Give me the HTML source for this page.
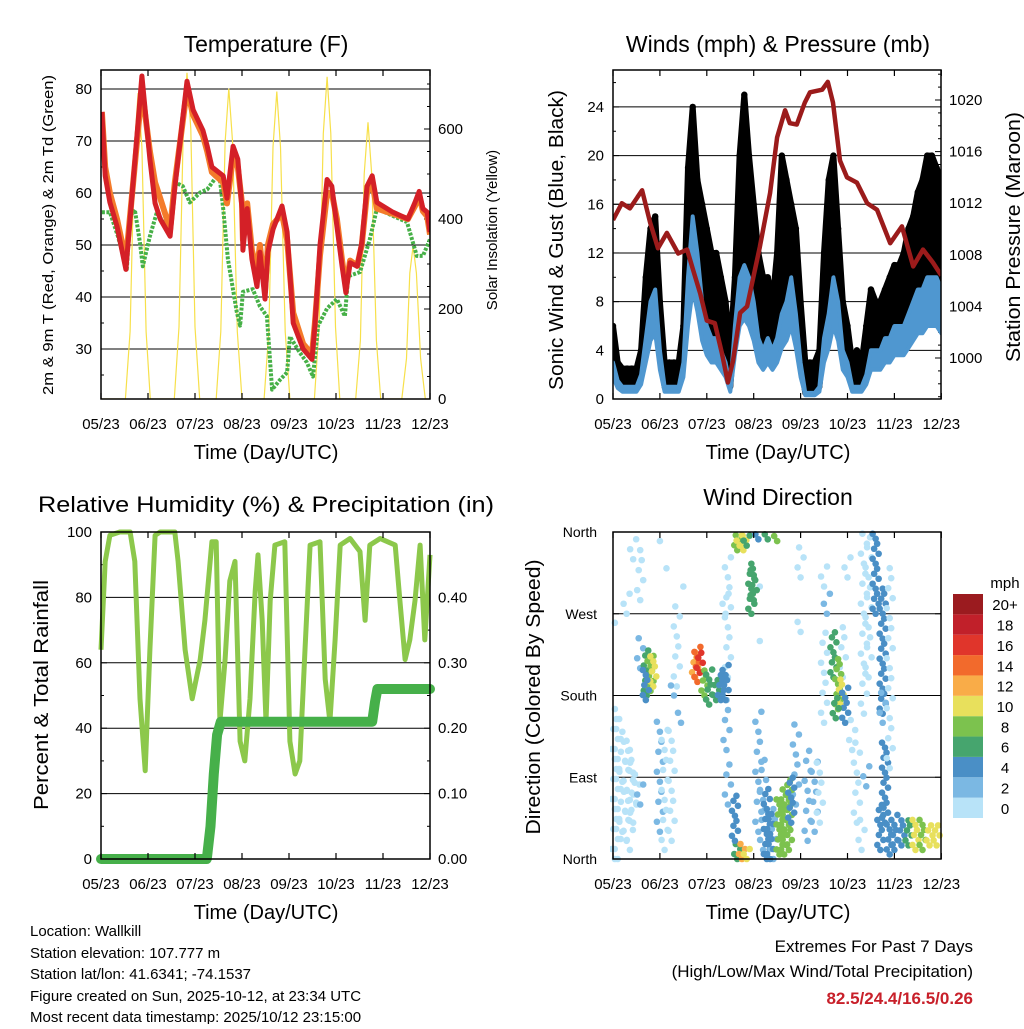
<!DOCTYPE html>
<html><head><meta charset="utf-8"><style>
html,body{margin:0;padding:0;background:#fff}
svg text{font-family:"Liberation Sans",Arial,sans-serif;fill:#000}
</style></head><body>
<svg id="c" width="1024" height="1024" viewBox="0 0 1024 1024" xmlns="http://www.w3.org/2000/svg">
<rect width="1024" height="1024" fill="#fff"/>
<g id="g1"></g>
<g id="g2"></g>
<g id="g3"></g>
<g id="g4"></g>
<text x="266" y="52" font-size="23" text-anchor="middle">Temperature (F)</text>
<text x="778" y="52" font-size="23" text-anchor="middle">Winds (mph) &amp; Pressure (mb)</text>
<text x="266" y="512" font-size="22" text-anchor="middle" textLength="456" lengthAdjust="spacingAndGlyphs">Relative Humidity (%) &amp; Precipitation (in)</text>
<text x="778" y="505" font-size="23" text-anchor="middle">Wind Direction</text>
<text x="266" y="459" font-size="20" text-anchor="middle">Time (Day/UTC)</text>
<text x="778" y="459" font-size="20" text-anchor="middle">Time (Day/UTC)</text>
<text x="266" y="919" font-size="20" text-anchor="middle">Time (Day/UTC)</text>
<text x="778" y="919" font-size="20" text-anchor="middle">Time (Day/UTC)</text>
<text transform="translate(53,235) rotate(-90)" font-size="15" text-anchor="middle" textLength="320" lengthAdjust="spacingAndGlyphs">2m &amp; 9m T (Red, Orange) &amp; 2m Td (Green)</text>
<text transform="translate(497,230) rotate(-90)" font-size="15" text-anchor="middle">Solar Insolation (Yellow)</text>
<text transform="translate(563,240) rotate(-90)" font-size="20" text-anchor="middle" textLength="300" lengthAdjust="spacingAndGlyphs">Sonic Wind &amp; Gust (Blue, Black)</text>
<text transform="translate(1020,237) rotate(-90)" font-size="20" text-anchor="middle" textLength="250" lengthAdjust="spacingAndGlyphs">Station Pressure (Maroon)</text>
<text transform="translate(48,695) rotate(-90)" font-size="20" text-anchor="middle" textLength="230" lengthAdjust="spacingAndGlyphs">Percent &amp; Total Rainfall</text>
<text transform="translate(540,697) rotate(-90)" font-size="20" text-anchor="middle" textLength="275" lengthAdjust="spacingAndGlyphs">Direction (Colored By Speed)</text>
<g font-size="15">
<text x="30" y="936">Location: Wallkill</text>
<text x="30" y="958">Station elevation: 107.777 m</text>
<text x="30" y="979">Station lat/lon: 41.6341; -74.1537</text>
<text x="30" y="1001">Figure created on Sun, 2025-10-12, at 23:34 UTC</text>
<text x="30" y="1022">Most recent data timestamp: 2025/10/12 23:15:00</text>
</g>
<g font-size="17" text-anchor="end">
<text x="973" y="952">Extremes For Past 7 Days</text>
<text x="973" y="977">(High/Low/Max Wind/Total Precipitation)</text>
<text x="973" y="1004" font-weight="bold" style="fill:#c8202a">82.5/24.4/16.5/0.26</text>
</g>
</svg>
<script>
// ---- data ----
const xTickLabels=["05/23","06/23","07/23","08/23","09/23","10/23","11/23","12/23"];
const tempT=[0.02,0.09,0.19,0.34,0.53,0.87,1.04,1.15,1.26,1.47,1.57,1.83,1.96,2.17,2.26,2.36,2.6,2.68,2.81,2.91,3.0,3.02,3.11,3.21,3.32,3.38,3.49,3.55,3.66,3.85,3.96,4.09,4.3,4.49,4.55,4.66,4.81,4.91,5.02,5.13,5.21,5.3,5.45,5.55,5.66,5.77,5.87,6.21,6.53,6.68,6.77,6.85,6.94,7.0];
const temp2m=[75.6,63.3,58.2,53.6,45.3,82.5,66.5,58,55,51.7,61,81.5,76,72,69,65,63.3,59,69,66.5,57,49,57,47.3,42,48.6,39.6,48.6,53,57.5,52.5,35,30,28,34.5,50,62.6,61.3,53.6,45.9,40.8,46.6,45.9,50.4,61.3,63.3,58.2,56.3,55,58.2,60.3,57,56.3,52.5];
const temp9m=[75.6,65,60,55,47,80,68,62,59,53,62,80,75,71,68,64,62,58,67,65,58,51,58,49,45,50,41,50,54,56,51,37,31,29,35,48,60,60,55,47,42,47,46,50,60,62,57,56,55,57.5,59.5,56.5,55.5,52];
const dewT=[0.02,0.19,0.36,0.55,0.62,0.72,0.83,0.89,1.04,1.19,1.32,1.47,1.57,1.74,1.89,2.11,2.26,2.47,2.53,2.6,2.7,2.89,2.96,3.02,3.23,3.38,3.53,3.64,3.81,3.96,4.02,4.23,4.38,4.51,4.62,4.81,5.02,5.19,5.26,5.51,5.72,5.87,6.21,6.51,6.72,6.85,7.0];
const dewV=[56.3,56.3,51.7,45.3,55.5,56.8,50.4,45.9,51.7,56.3,54.4,52.5,62.1,61.3,58.2,60.1,60.7,63.3,62.6,57,47.3,37.1,34.5,41,41.5,38.2,36.3,22.2,24.1,25.5,32.4,29.3,27.4,24.7,34.5,37.8,39.6,36.3,44,44.8,51.1,57,55.6,54.4,47.9,47.9,51.1];
const solarT=[0,0.52,0.62,0.71,0.79,0.87,0.96,1.05,1.56,1.66,1.75,1.83,1.91,2.0,2.1,2.45,2.55,2.64,2.72,2.8,2.9,3.0,3.47,3.57,3.66,3.74,3.82,3.92,4.02,4.54,4.64,4.73,4.81,4.89,4.99,5.08,5.42,5.52,5.6,5.68,5.76,5.86,5.95,6.4,6.5,6.57,6.64,6.71,6.8,6.9,7.0];
const solarV=[0,0,150,560,680,560,150,0,0,160,600,725,600,160,0,0,150,570,690,570,150,0,0,150,560,683,560,150,0,0,160,590,716,590,160,0,0,130,500,615,500,130,0,0,90,280,340,280,90,0,0];
const tempTicks=[30,40,50,60,70,80];
const solarTicks=[0,200,400,600];

const windT=[0,0.1,0.2,0.3,0.4,0.5,0.6,0.7,0.8,0.9,1.0,1.1,1.2,1.3,1.4,1.5,1.6,1.7,1.8,1.9,2.0,2.1,2.2,2.3,2.4,2.5,2.6,2.7,2.8,2.9,3.0,3.1,3.2,3.3,3.4,3.5,3.6,3.7,3.8,3.9,4.0,4.1,4.2,4.3,4.4,4.5,4.6,4.7,4.8,4.9,5.0,5.1,5.2,5.3,5.4,5.5,5.6,5.7,5.8,5.9,6.0,6.1,6.2,6.3,6.4,6.5,6.6,6.7,6.8,6.9,7.0];
const gustV=[6,3,2.5,2.5,2.5,2.5,4,10,14,15,8,3,3,3,3,6,19,24,18,16,14,12,12,10,8,4,10,20,25,20,16,12,10,10,8,12,20,18,16,14,8,3,3,3,4,12,18,20,14,8,6,3,4,3,6,9,8,8,9,10,11,11,12,14,15,17,18,20,20,19,18];
const windV=[3,1.5,1,1,1,1,2,5,8,9,4,1,1,1,1,3,10,15,12,8,6,5,5,4,3,1,6,10,11,10,8,5,4,5,4,5,7,8,10,7,3,0.5,0.5,0.5,1,5,7,10,8,4,3,1,1,1,2,4,4,4,5,5,6,6,6,7,8,9,9,10,10,10,9];
const presT=[0,0.19,0.36,0.62,0.79,0.96,1.15,1.39,1.58,1.71,1.86,2.0,2.17,2.32,2.45,2.56,2.71,2.86,3.13,3.35,3.5,3.67,3.77,3.92,4.09,4.2,4.46,4.58,4.69,4.84,4.99,5.2,5.42,5.63,5.91,6.16,6.4,6.61,6.82,7.0];
const presV=[1010.7,1012.0,1011.6,1013.0,1010.5,1008.5,1009.7,1008.1,1008.4,1006.8,1005.0,1002.9,1002.7,1000.4,998.1,999.8,1003.5,1004.0,1008.6,1012.8,1017.1,1019.2,1018.2,1018.1,1019.8,1020.6,1020.8,1021.4,1019.8,1015.3,1014.0,1013.6,1012.0,1011.5,1008.9,1010.2,1007.1,1008.4,1007.4,1006.4];
const windTicks=[0,4,8,12,16,20,24];
const presTicks=[1000,1004,1008,1012,1016,1020];

const rhT=[0,0.09,0.19,0.4,0.62,0.72,0.83,0.94,1.04,1.15,1.26,1.57,1.64,1.79,1.94,2.11,2.21,2.36,2.45,2.53,2.64,2.74,2.85,2.96,3.06,3.17,3.28,3.34,3.43,3.51,3.6,3.7,3.91,4.02,4.13,4.23,4.34,4.45,4.66,4.77,4.87,4.98,5.09,5.3,5.51,5.62,5.72,5.94,6.26,6.36,6.47,6.57,6.68,6.79,6.89,7.0];
const rhV=[64,91,99,100,100,91,49,27,64,99,100,100,91,64,49,61,73,97,97,42,61,85,91,36,30,49,82,93,73,42,79,96,97,36,26,30,64,96,97,55,42,67,96,98,94,73,96,98,96,79,61,67,79,96,67,93];
const rainT=[0,2.25,2.33,2.4,2.47,2.55,5.77,5.83,5.88,7.0];
const rainV=[0,0,0.05,0.13,0.19,0.21,0.21,0.24,0.26,0.26];
const rhTicks=[0,20,40,60,80,100];
const rainTicks=["0.00","0.10","0.20","0.30","0.40"];

const dirTickLabels=["North","East","South","West","North"];
const streakT=[0.04,0.10,0.2,0.29,0.36,0.43,0.5,0.04,0.29,0.43,0.58,0.58,0.58,1.0,1.14,1.0,1.1,1.25,1.36,1.45,1.5,1.3,2.4,2.42,2.45,2.45,3.13,3.13,3.1,3.2,3.28,3.42,3.9,4.0,4.0,4.15,4.3,4.41,4.5,4.5,4.56,4.9,5.0,5.1,5.2,5.35,5.3,5.4,5.45,5.6,5.75,5.8,5.75,5.9,
0.72,0.8,0.86,0.7,1.75,1.8,1.85,1.95,2.05,2.2,2.3,2.4,2.65,2.7,2.78,2.85,2.95,3.0,3.1,3.3,3.5,2.65,2.75,2.85,2.6,3.35,3.55,3.65,3.75,3.8,4.7,4.8,4.85,4.95,4.75,5.7,5.9,6.0,6.15,6.3,6.45,6.6,6.75,6.9];
const streakD1=[0,0,30,20,10,40,60,260,270,330,285,60,210,350,320,30,10,20,190,150,300,180,270,120,200,60,240,300,30,10,0,0,60,310,250,20,30,40,300,150,270,200,310,120,40,160,10,80,200,270,160,40,150,100,
180,185,190,175,200,195,205,180,170,175,175,175,340,345,340,345,270,285,352,352,350,0,0,0,20,0,5,5,10,40,200,165,170,150,155,10,5,10,15,15,10,10,15,15];
const streakD2=[175,160,150,130,120,110,100,270,300,355,340,90,250,355,330,160,150,150,285,170,310,200,300,180,340,110,250,310,170,110,80,60,150,350,270,120,110,110,330,250,300,260,340,160,130,360,50,110,360,360,300,130,190,330,
230,225,225,210,230,235,230,210,210,200,205,215,360,360,360,360,325,320,360,360,358,20,20,15,70,50,70,80,90,90,250,220,200,190,180,60,40,50,45,45,45,45,40,40];
const streakS=[1,1,1,1,1,1,1,1,1,1,1,3,3,1,1,3,1,1,1,3,1,3,1,3,1,3,1,1,2,2,4,2,2,1,1,3,2,1,1,1,3,1,1,1,1,1,1,3,1,4,4,4,3,1,
6,8,10,4,12,14,16,8,6,7,4,4,8,11,10,7,6,6,5,6,8,7,12,10,4,4,9,8,8,4,6,8,10,4,6,4,4,4,5,6,10,9,11,10];
const speedLabels=["0","2","4","6","8","10","12","14","16","18","20+"];
const speedColors=["#b8e3f8","#7bb8e3","#4a8fc6","#46a56e","#7cc24e","#e8e05c","#f9ac48","#f26a2c","#e0352b","#c1202a","#9b1b1f"];

// ---- helpers ----
const NS="http://www.w3.org/2000/svg";
function mk(parent,tag,attrs,name,inter){const e=document.createElementNS(NS,tag);for(const k in attrs)e.setAttribute(k,attrs[k]);


parent.appendChild(e);return e;}
function txt(parent,x,y,s,size,anchor,name){const t=mk(parent,'text',{x:x,y:y,'font-size':size,'text-anchor':anchor},name,false);t.textContent=s;return t;}
function pathOf(ts,vs,fx,fy){let d="";for(let i=0;i<ts.length;i++)d+=(i?"L":"M")+fx(ts[i]).toFixed(1)+","+fy(vs[i]).toFixed(1);return d;}
function frame(g,x0,y0,x1,y1,fx,pre){
  for(let i=0;i<xTickLabels.length;i++){const x=fx(i);
    mk(g,'line',{x1:x,y1:y1,x2:x,y2:y1-6,stroke:'#000','stroke-width':1.2},pre+'x-tick',false);
    mk(g,'line',{x1:x,y1:y0,x2:x,y2:y0+6,stroke:'#000','stroke-width':1.2},pre+'x-tick-top',false);
    txt(g,x,y1+30,xTickLabels[i],15,'middle',pre+'x-tick-label');}
}
function box(g,x0,y0,x1,y1,pre){mk(g,'rect',{x:x0,y:y0,width:x1-x0,height:y1-y0,fill:'none',stroke:'#000','stroke-width':1.5},pre+'plot-frame',false);}

// ---- panel 1 ----
(function(){const g=document.getElementById('g1');
const X=d=>101+d*47, YT=v=>349-(v-30)*5.2, YS=v=>399-v*0.45;
for(let v=25;v<=80;v+=5){const y=YT(v);const major=tempTicks.indexOf(v)>=0;
  if(major){mk(g,'line',{x1:101,y1:y,x2:430,y2:y,stroke:'#000','stroke-width':1},'temp-gridline',false);
   txt(g,92,y+5,String(v),15,'end','temp-tick-label');}
  mk(g,'line',{x1:101,y1:y,x2:major?107:104,y2:y,stroke:'#000','stroke-width':1},'temp-tick',false);}
for(let v=0;v<=700;v+=50){const y=YS(v);const major=solarTicks.indexOf(v)>=0;
  mk(g,'line',{x1:430,y1:y,x2:major?424:427,y2:y,stroke:'#000','stroke-width':1},'solar-tick',false);
  if(major)txt(g,438,y+5,String(v),15,'start','solar-tick-label');}
const cl=mk(g,'clipPath',{id:'cp1'},'clip',false);mk(cl,'rect',{x:101,y:70,width:329,height:329},'clip-rect',false);
const s=mk(g,'g',{'clip-path':'url(#cp1)'},'temp-series',false);
mk(s,'path',{d:pathOf(solarT,solarV,X,YS),fill:'none',stroke:'#f7e04a','stroke-width':1.2},'solar-line',false);
mk(s,'path',{d:pathOf(dewT,dewV,X,YT),fill:'none',stroke:'#46b047','stroke-width':4,'stroke-dasharray':'3,1.5','stroke-linejoin':'round'},'dewpoint-line',false);
mk(s,'path',{d:pathOf(tempT,temp9m,X,YT),fill:'none',stroke:'#f47b2a','stroke-width':6,'stroke-linejoin':'round'},'temp-9m-line',false);
mk(s,'path',{d:pathOf(tempT,temp2m,X,YT),fill:'none',stroke:'#d42027','stroke-width':5,'stroke-linejoin':'round'},'temp-2m-line',false);
box(g,101,70,430,399,'temp-');frame(g,101,70,430,399,X,'temp-');})();

// ---- panel 2 ----
(function(){const g=document.getElementById('g2');
const X=d=>613+d*46.9, YW=v=>399-v*12.17, YP=p=>358-(p-1000)*12.9;
for(let v=0;v<=26;v+=2){const y=YW(v);const major=windTicks.indexOf(v)>=0;
  if(major){mk(g,'line',{x1:613,y1:y,x2:941,y2:y,stroke:'#000','stroke-width':1},'wind-gridline',false);
   txt(g,604,y+5,String(v),15,'end','wind-tick-label');}
  mk(g,'line',{x1:613,y1:y,x2:major?619:616,y2:y,stroke:'#000','stroke-width':1},'wind-tick',false);}
for(let p=997;p<=1022;p+=1){const y=YP(p);const major=presTicks.indexOf(p)>=0;
  mk(g,'line',{x1:941,y1:y,x2:major?935:938,y2:y,stroke:'#000','stroke-width':1},'pressure-tick',false);
  if(major)txt(g,949,y+5,String(p),15,'start','pressure-tick-label');}
const cl=mk(g,'clipPath',{id:'cp2'},'clip',false);mk(cl,'rect',{x:613,y:70,width:328,height:329},'clip-rect',false);
const s=mk(g,'g',{'clip-path':'url(#cp2)'},'wind-series',false);
let d="";for(let i=0;i<windT.length;i++)d+=(i?"L":"M")+X(windT[i]).toFixed(1)+","+YW(gustV[i]).toFixed(1);
for(let i=windT.length-1;i>=0;i--)d+="L"+X(windT[i]).toFixed(1)+","+YW(windV[i]).toFixed(1);
mk(s,'path',{d:d+"Z",fill:'#000',stroke:'#000','stroke-width':6,'stroke-linejoin':'round'},'gust-area',false);
for(let i=0;i<windT.length;i++){
  mk(s,'circle',{cx:X(windT[i]),cy:YW(gustV[i]),r:3.2,fill:'#000'},'gust-point',false);}
let b="";for(let i=0;i<windT.length;i++)b+=(i?"L":"M")+X(windT[i]).toFixed(1)+","+YW(windV[i]*0.6).toFixed(1);
for(let i=windT.length-1;i>=0;i--)b+="L"+X(windT[i]).toFixed(1)+","+YW(windV[i]).toFixed(1);
mk(s,'path',{d:b+"Z",fill:'#4f97d0',stroke:'#4f97d0','stroke-width':4,'stroke-linejoin':'round'},'wind-band',false);
mk(s,'path',{d:pathOf(presT,presV,X,YP),fill:'none',stroke:'#9b1b1b','stroke-width':4.5,'stroke-linejoin':'round'},'pressure-line',false);
box(g,613,70,941,399,'wind-');frame(g,613,70,941,399,X,'wind-');})();

// ---- panel 3 ----
(function(){const g=document.getElementById('g3');
const X=d=>101+d*47, YH=v=>859-v*3.27, YR=v=>859-v*654;
for(let v=0;v<=100;v+=10){const y=YH(v);const major=rhTicks.indexOf(v)>=0;
  if(major){if(v>0&&v<100)mk(g,'line',{x1:101,y1:y,x2:430,y2:y,stroke:'#000','stroke-width':1},'rh-gridline',false);
   txt(g,92,y+5,String(v),15,'end','rh-tick-label');}
  mk(g,'line',{x1:101,y1:y,x2:major?107:104,y2:y,stroke:'#000','stroke-width':1},'rh-tick',false);}
for(let i=0;i<=10;i++){const v=i*0.05;const y=YR(v);const major=i%2==0&&i<10;
  mk(g,'line',{x1:430,y1:y,x2:major?424:427,y2:y,stroke:'#000','stroke-width':1},'rain-tick',false);
  if(major)txt(g,438,y+5,rainTicks[i/2],15,'start','rain-tick-label');}
const cl=mk(g,'clipPath',{id:'cp3'},'clip',false);mk(cl,'rect',{x:96,y:527,width:339,height:337},'clip-rect',false);
const s=mk(g,'g',{'clip-path':'url(#cp3)'},'rh-series',false);
mk(s,'path',{d:pathOf(rhT,rhV,X,YH),fill:'none',stroke:'#8cc84b','stroke-width':5,'stroke-linejoin':'round'},'rh-line',false);
mk(s,'path',{d:pathOf(rainT,rainV,X,YR),fill:'none',stroke:'#46b04a','stroke-width':10,'stroke-linejoin':'round','stroke-linecap':'round'},'rain-line',false);
box(g,101,532,430,859,'rh-');frame(g,101,532,430,859,X,'rh-');})();

// ---- panel 4 ----
(function(){const g=document.getElementById('g4');
const X=d=>613+d*46.9, YD=a=>859-a*327/360;
for(let i=0;i<dirTickLabels.length;i++){const y=YD(i*90);
  if(i>0&&i<4)mk(g,'line',{x1:613,y1:y,x2:941,y2:y,stroke:'#000','stroke-width':1},'dir-gridline',false);
  mk(g,'line',{x1:613,y1:y,x2:619,y2:y,stroke:'#000','stroke-width':1},'dir-tick',false);
  mk(g,'line',{x1:941,y1:y,x2:935,y2:y,stroke:'#000','stroke-width':1},'dir-tick-right',false);
  txt(g,597,y+5,dirTickLabels[i],14,'end','dir-tick-label');}
const cl=mk(g,'clipPath',{id:'cp4'},'clip',false);mk(cl,'rect',{x:610,y:527,width:334,height:337},'clip-rect',false);
const s=mk(g,'g',{'clip-path':'url(#cp4)'},'dir-points',false);
const jit=[0,-3,3,-1.5,1.5];
for(let k=0;k<streakT.length;k++){const x=X(streakT[k]);const y1=YD(streakD1[k]),y2=YD(streakD2[k]);
  const col=speedColors[Math.min(10,Math.floor(streakS[k]/2))];
  const step=streakS[k]<=3?10:5;
  let n=0;for(let y=y1;y>=y2-0.1;y-=step){
    mk(s,'circle',{cx:x+jit[n%5],cy:y,r:3.3,fill:col},'dir-point',false);n++;}
  if(n===0)mk(s,'circle',{cx:x,cy:y1,r:3.3,fill:col},'dir-point',false);}
box(g,613,532,941,859,'dir-');frame(g,613,532,941,859,X,'dir-');
const bh=(818-594)/speedColors.length;
txt(g,1005,588,'mph',15,'middle','colorbar-unit');
for(let i=0;i<speedColors.length;i++){const y=818-(i+1)*bh;
  mk(g,'rect',{x:953,y:y,width:30,height:bh,fill:speedColors[i]},'colorbar-box',false);
  txt(g,1005,y+bh/2+6,speedLabels[i],15,'middle','colorbar-label');}
})();
</script>
</body></html>
